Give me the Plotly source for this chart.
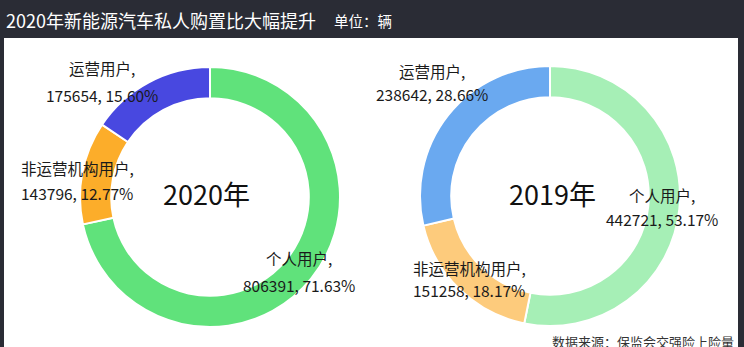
import plotly.graph_objects as go

# Data: new-energy vehicle purchases by user type (unit: vehicles)
categories = ["个人用户", "非运营机构用户", "运营用户"]
values_2020 = [806391, 143796, 175654]
values_2019 = [442721, 151258, 238642]
colors_2020 = ["#60e27b", "#fcad2a", "#4848e0"]
colors_2019 = ["#a6efb6", "#fdcb7c", "#6aa9f0"]

title_text = "2020年新能源汽车私人购置比大幅提升"
unit_text = "单位：辆"
source_text = "数据来源：保监会交强险上险量"

W, H = 744, 347
FONT = "Noto Sans CJK SC"
DARK = "#2a2c35"


def px_x(x):
    return x / W


def px_y(y):
    return 1 - y / H


fig = go.Figure()


def add_donut(vals, cols, x0, x1, y0, y1):
    fig.add_trace(go.Pie(
        labels=categories, values=vals, sort=False, direction="clockwise",
        rotation=0, hole=0.76, textinfo="none", hoverinfo="skip",
        marker=dict(colors=cols, line=dict(color="white", width=2)),
        domain=dict(x=[px_x(x0), px_x(x1)], y=[px_y(y1), px_y(y0)]),
        showlegend=False,
    ))


add_donut(values_2020, colors_2020, 80, 340, 67, 327)
add_donut(values_2019, colors_2019, 420, 680, 66, 326)

annotations = []


def label(text, x, y, size=15.5, color="#1a1a1a"):
    annotations.append(dict(
        text=text, x=px_x(x), y=px_y(y), xref="paper", yref="paper",
        showarrow=False, xanchor="center", yanchor="middle",
        font=dict(family=FONT, size=size, color=color),
    ))


def slice_labels(vals, positions):
    total = sum(vals)
    for name, v, (cx, y1, y2) in zip(categories, vals, positions):
        label(f"{name},", cx, y1)
        label(f"{v}, {v / total * 100:.2f}%", cx, y2)


slice_labels(values_2020, [(299, 258, 285), (77, 168, 193), (102, 68, 95)])
slice_labels(values_2019, [(662, 195, 219), (469, 268, 290), (432, 71, 94)])

label("2020年", 207, 193, size=27, color="#111111")
label("2019年", 552, 193, size=27, color="#111111")

# Header
annotations.append(dict(
    text=title_text, x=px_x(4), y=px_y(20), xref="paper", yref="paper",
    showarrow=False, xanchor="left", yanchor="middle",
    font=dict(family=FONT, size=18, color="white"),
))
annotations.append(dict(
    text=unit_text, x=px_x(332), y=px_y(21), xref="paper", yref="paper",
    showarrow=False, xanchor="left", yanchor="middle",
    font=dict(family=FONT, size=14.5, color="white"),
))
annotations.append(dict(
    text=source_text, x=px_x(736), y=px_y(341), xref="paper", yref="paper",
    showarrow=False, xanchor="right", yanchor="middle",
    font=dict(family=FONT, size=13, color="#333333"),
))

fig.update_layout(
    width=W, height=H,
    margin=dict(l=0, r=0, t=0, b=0),
    paper_bgcolor=DARK,
    plot_bgcolor="white",
    annotations=annotations,
    shapes=[dict(
        type="rect", xref="paper", yref="paper",
        x0=px_x(4), x1=px_x(738), y0=0, y1=px_y(38),
        fillcolor="white", line=dict(width=0), layer="below",
    )],
)

fig.write_html("out.html", config={"displayModeBar": False})
